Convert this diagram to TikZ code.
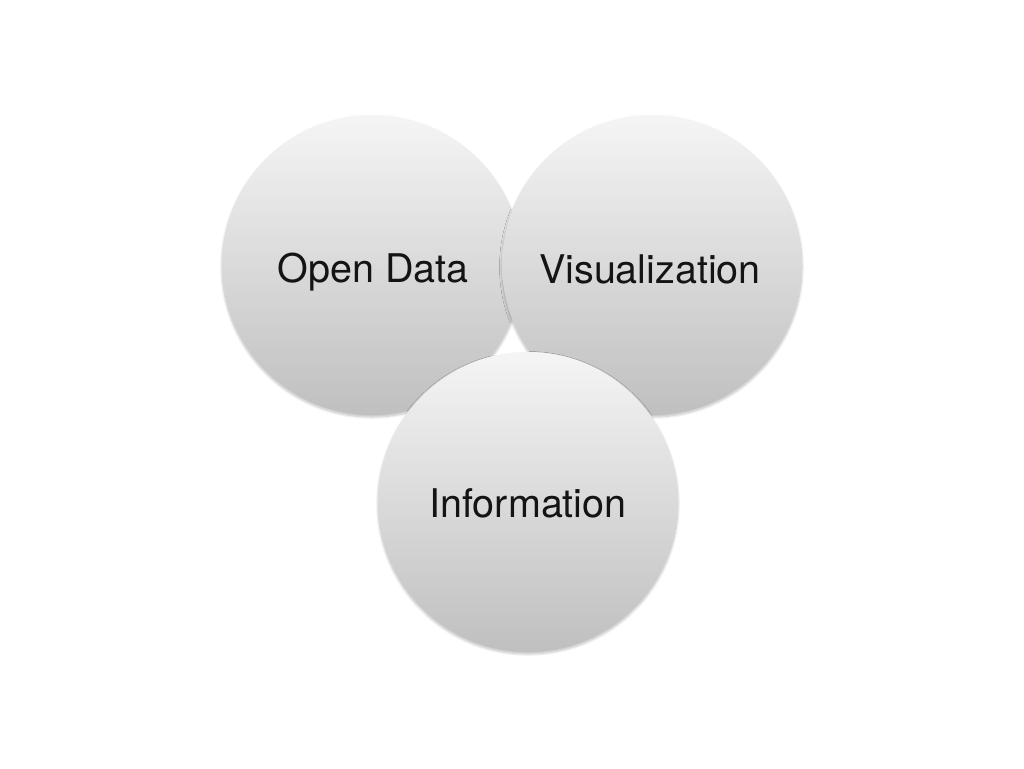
\documentclass[tikz,border=0pt]{standalone}
\usepackage{fontspec}
\setmainfont{TeX Gyre Heros}
\usetikzlibrary{shadows.blur}
\begin{document}
\begin{tikzpicture}[x=1pt,y=-1pt,
  ball/.style={circle, minimum size=300pt, inner sep=0pt,
    top color=black!4, bottom color=black!25,
    blur shadow={shadow xshift=0pt, shadow yshift=-2pt, shadow blur radius=2.5pt, shadow opacity=25, shadow blur steps=8}},
  lbl/.style={anchor=base, inner sep=0pt, font=\fontsize{39.5}{46}\selectfont, text=black!92}]
\useasboundingbox (0,0) rectangle (1024,768);
\node[ball] (open) at (372,265) {};
\node[ball] (vis) at (652,265) {};
\node[ball] (info) at (528,502) {};
\node[lbl] (openlbl) at (373,282) {Open Data};
\node[lbl] (vislbl) at (650,283) {Visualization};
\node[lbl] (infolbl) at (528,517) {Information};
\end{tikzpicture}
\end{document}
